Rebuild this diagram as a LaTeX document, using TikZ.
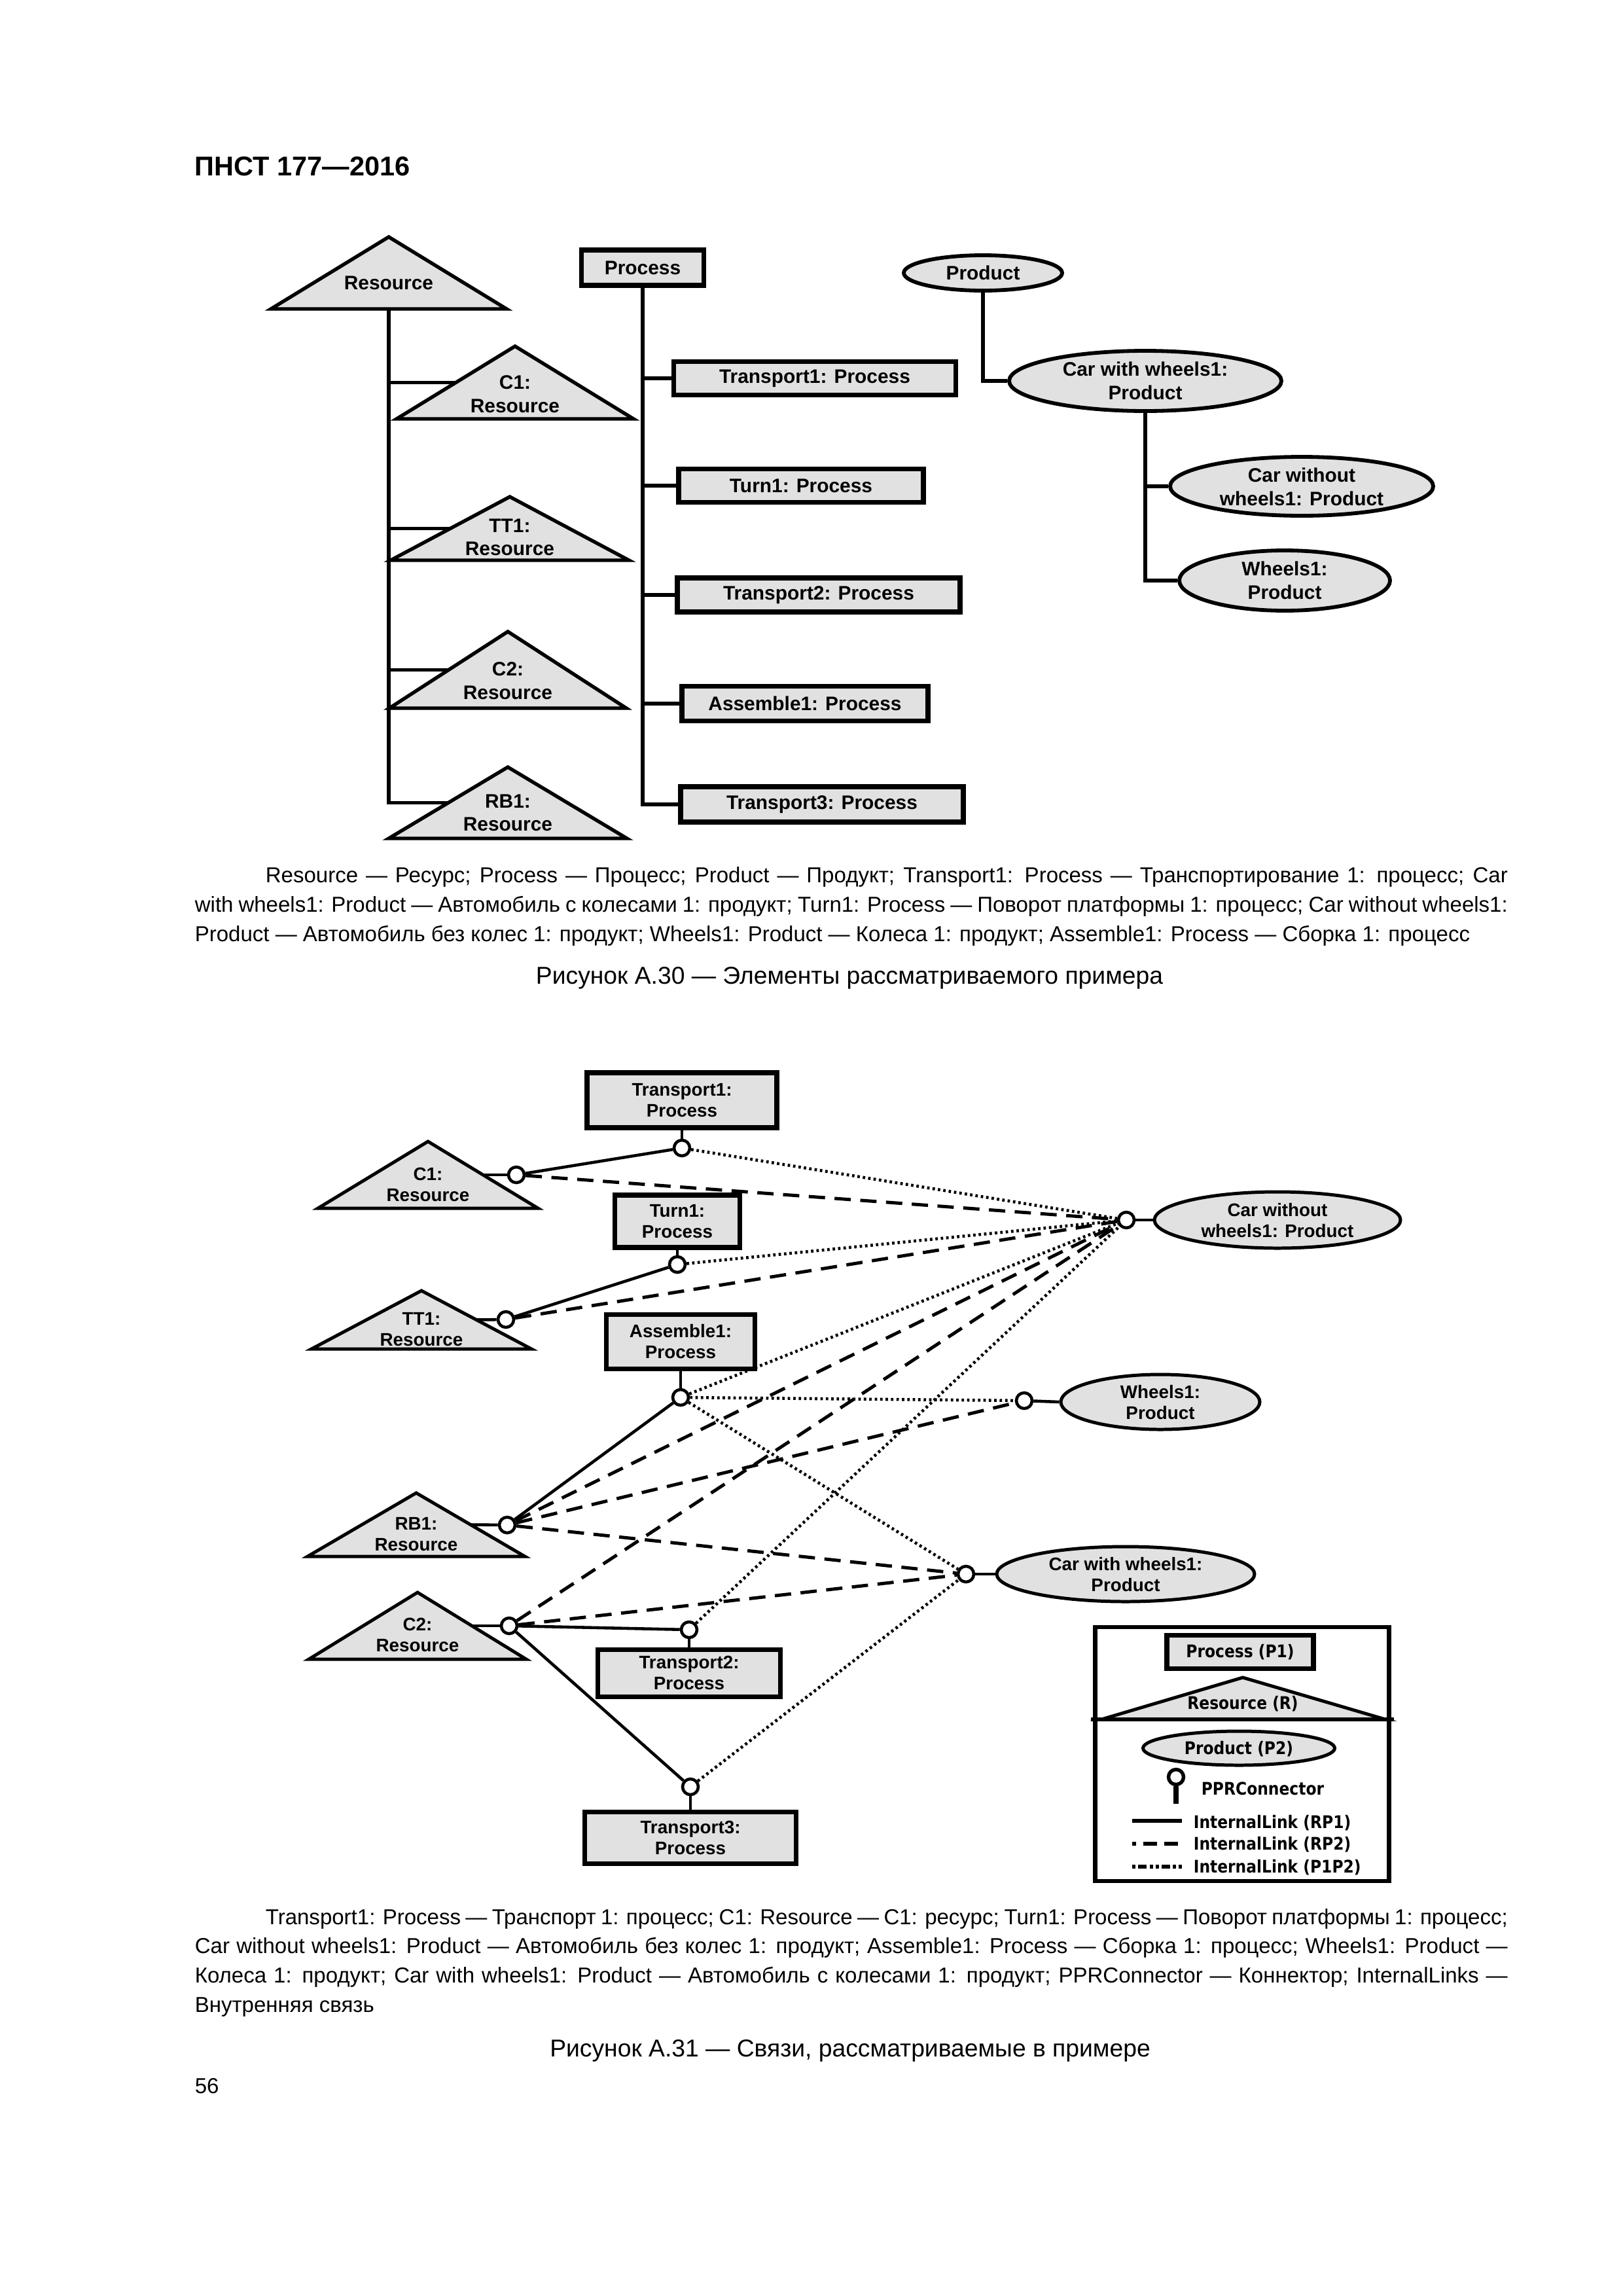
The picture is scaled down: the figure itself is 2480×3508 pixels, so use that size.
\documentclass[tikz,border=0pt]{standalone}
\usepackage{fontspec}
\setmainfont{Liberation Sans}
\newfontfamily\legfont{DejaVu Sans}[FakeStretch=0.88]
\usetikzlibrary{calc,shapes.geometric}
\definecolor{fillg}{HTML}{E1E1E1}
\newlength\pxu
\setlength\pxu{0.084677mm}
\newlength\fitlen
\newcommand\fitsize[3]{%
  \setbox0=\hbox{\fontsize{10pt}{12pt}\selectfont #3}%
  \setlength\fitlen{\wd0}%
  \pgfmathsetmacro#1{#2*0.24093/\fitlen*10}}
\newcommand\restri[6]{% style, name, apex x, apex y, halfwidth, height
  \draw[#1] (#3,#4) coordinate (#2-top) -- ++(-#5,#6) coordinate (#2-bl) -- ++(2*#5,0) coordinate (#2-br) -- cycle;
  \coordinate (#2-lm) at ($(#2-top)!0.5!(#2-bl)$);
  \coordinate (#2-rm) at ($(#2-top)!0.5!(#2-br)$);
  \coordinate (#2-bm) at ($(#2-bl)!0.5!(#2-br)$);}
\newcommand\capfont{\fontsize{\capsz pt}{\capsz pt}\selectfont}
\newcommand\titfont{\fontsize{\titsz pt}{\titsz pt}\selectfont}
\tikzset{
 ttxt/.style={font=\bfseries\fontsize{7.2pt}{8.6pt}\selectfont, align=center, inner sep=0pt},
 tbox/.style={draw, line width=1.8pt, fill=fillg, inner sep=0pt, font=\bfseries\fontsize{7.2pt}{8.6pt}\selectfont, align=center},
 tell/.style={ellipse, draw, line width=1.4pt, fill=fillg, inner sep=0pt},
 trist/.style={draw, line width=1.3pt, fill=fillg, line join=miter},
 tline/.style={line width=1.3pt},
 btxt/.style={font=\bfseries\fontsize{6.7pt}{7.7pt}\selectfont, align=center, inner sep=0pt},
 bbox/.style={draw, line width=1.7pt, fill=fillg, inner sep=0pt, font=\bfseries\fontsize{6.7pt}{7.7pt}\selectfont, align=center},
 bell/.style={ellipse, draw, line width=1.2pt, fill=fillg, inner sep=0pt},
 btri/.style={draw, line width=1.2pt, fill=fillg, line join=miter},
 conn/.style={circle, draw, line width=1.1pt, fill=white, inner sep=0pt, minimum size=24\pxu},
 rp1/.style={line width=1.1pt},
 rp2/.style={line width=1.2pt, dash pattern=on 6pt off 3.5pt},
 p1p2/.style={line width=1.1pt, dash pattern=on 0.9pt off 1.1pt},
 legtxt/.style={font=\legfont\bfseries\fontsize{6.4pt}{7.5pt}\selectfont, inner sep=0pt},
 captxt/.style={inner sep=0pt, anchor=west, font=\capfont},
}
\begin{document}
\fitsize{\capsz}{1948}{Product — Автомобиль без колес 1: продукт; Wheels1: Product — Колеса 1: продукт; Assemble1: Process — Сборка 1: процесс}%
\fitsize{\titsz}{958}{Рисунок А.30 — Элементы рассматриваемого примера}%
\begin{tikzpicture}[x=0.084677mm,y=-0.084677mm]
\fill[white] (0,0) rectangle (2480,3508);
\useasboundingbox (0,0) rectangle (2480,3508);

% header
\node[anchor=west, inner sep=0pt, font=\bfseries\fontsize{10pt}{12pt}\selectfont] (hdr) at (297,254) {ПНСТ 177—2016};

% ===== Figure A.30 =====
\restri{trist}{tres}{594}{362}{180}{110}
\node[ttxt] (tresT) at (594,432) {Resource};
\restri{trist}{tc1}{787}{529}{181}{111}
\node[ttxt] (tc1T) at (787,602) {C1:\\Resource};
\restri{trist}{ttt1}{779}{759}{182}{97}
\node[ttxt] (ttt1T) at (779,821) {TT1:\\Resource};
\restri{trist}{tc2}{776}{965}{181}{117}
\node[ttxt] (tc2T) at (776,1040) {C2:\\Resource};
\restri{trist}{trb1}{776}{1172}{182}{109}
\node[ttxt] (trb1T) at (776,1242) {RB1:\\Resource};
\draw[tline] (tres-bm) -- (tres-bm |- trb1-lm) -- (trb1-lm);
\foreach \n in {tc1,ttt1,tc2} \draw[tline] (tres-bm |- \n-lm) -- (\n-lm);

\node[tbox, minimum width=187\pxu, minimum height=54\pxu] (tproc) at (982,409) {Process};
\node[tbox, minimum width=431\pxu, minimum height=51\pxu] (tt1) at (1245,578) {Transport1: Process};
\node[tbox, minimum width=374\pxu, minimum height=51\pxu] (tturn) at (1224,742) {Turn1: Process};
\node[tbox, minimum width=432\pxu, minimum height=52\pxu] (tt2) at (1251,909) {Transport2: Process};
\node[tbox, minimum width=376\pxu, minimum height=53\pxu] (tasm) at (1230,1075) {Assemble1: Process};
\node[tbox, minimum width=432\pxu, minimum height=54\pxu] (tt3) at (1256,1229) {Transport3: Process};
\draw[tline] (tproc.south) -- (tproc.south |- tt3.west) -- (tt3.west);
\foreach \n in {tt1,tturn,tt2,tasm} \draw[tline] (tproc.south |- \n.west) -- (\n.west);

\node[tell, minimum width=242\pxu, minimum height=54\pxu] (tprod) at (1502,417) {};
\node[ttxt] (tprodT) at (1502,417) {Product};
\node[tell, minimum width=416\pxu, minimum height=92\pxu] (tcww) at (1750,582) {};
\node[ttxt] (tcwwT) at (1750,582) {Car with wheels1:\\Product};
\node[tell, minimum width=402\pxu, minimum height=90\pxu] (tcwo) at (1989,743) {};
\node[ttxt] (tcwoT) at (1989,744) {Car without\\wheels1: Product};
\node[tell, minimum width=322\pxu, minimum height=92\pxu] (twh) at (1963,887) {};
\node[ttxt] (twhT) at (1963,887) {Wheels1:\\Product};
\draw[tline] (tprod.south) -- (tprod.south |- tcww.west) -- (tcww.west);
\draw[tline] (tcww.south) -- (tcww.south |- twh.west) -- (twh.west);
\draw[tline] (tcww.south |- tcwo.west) -- (tcwo.west);

% caption A.30
\node[captxt] (c1a) at (405,1340) {\hbox to 1898\pxu{Resource — Ресурс; Process — Процесс; Product — Продукт; Transport1: Process — Транспортирование 1: процесс; Car}};
\node[captxt] (c1b) at (297,1385) {\hbox to 2006\pxu{with wheels1: Product — Автомобиль с колесами 1: продукт; Turn1: Process — Поворот платформы 1: процесс; Car without wheels1:}};
\node[captxt] (c1c) at (297,1430) {Product — Автомобиль без колес 1: продукт; Wheels1: Product — Колеса 1: продукт; Assemble1: Process — Сборка 1: процесс};
\node[inner sep=0pt, font=\titfont] (fig30) at (1298,1494) {Рисунок А.30 — Элементы рассматриваемого примера};

% ===== Figure A.31 =====
\node[bbox, minimum width=290\pxu, minimum height=84\pxu] (bT1) at (1042,1681) {Transport1:\\Process};
\node[bbox, minimum width=191\pxu, minimum height=80\pxu] (bTurn) at (1035,1866) {Turn1:\\Process};
\node[bbox, minimum width=227\pxu, minimum height=83\pxu] (bAsm) at (1040,2050) {Assemble1:\\Process};
\node[bbox, minimum width=279\pxu, minimum height=72\pxu] (bT2) at (1053,2556) {Transport2:\\Process};
\node[bbox, minimum width=323\pxu, minimum height=79\pxu] (bT3) at (1055,2808) {Transport3:\\Process};

\restri{btri}{bC1}{654}{1744}{168}{102}
\node[btxt] (bC1T) at (654,1810) {C1:\\Resource};
\restri{btri}{bTT1}{644}{1972}{168}{89}
\node[btxt] (bTT1T) at (644,2031) {TT1:\\Resource};
\restri{btri}{bRB1}{636}{2281}{166}{97}
\node[btxt] (bRB1T) at (636,2344) {RB1:\\Resource};
\restri{btri}{bC2}{638}{2433}{166}{102}
\node[btxt] (bC2T) at (638,2498) {C2:\\Resource};

\node[bell, minimum width=376\pxu, minimum height=86\pxu] (bCWO) at (1952,1864) {};
\node[btxt] (bCWOT) at (1952,1865) {Car without\\wheels1: Product};
\node[bell, minimum width=304\pxu, minimum height=84\pxu] (bW) at (1773,2142) {};
\node[btxt] (bWT) at (1773,2143) {Wheels1:\\Product};
\node[bell, minimum width=394\pxu, minimum height=84\pxu] (bCWW) at (1720,2405) {};
\node[btxt] (bCWWT) at (1720,2406) {Car with wheels1:\\Product};

\node[conn] (kT1) at (1042,1754) {};
\node[conn] (kTurn) at (1035,1932) {};
\node[conn] (kAsm) at (1040,2135) {};
\node[conn] (kT2) at (1053,2490) {};
\node[conn] (kT3) at (1055,2730) {};
\node[conn] (kC1) at (789,1795) {};
\node[conn] (kTT1) at (773,2016) {};
\node[conn] (kRB1) at (775,2330) {};
\node[conn] (kC2) at (778,2484) {};
\node[conn] (kCWO) at (1721,1864) {};
\node[conn] (kW) at (1565,2140) {};
\node[conn] (kCWW) at (1476,2405) {};

% stubs
\draw[rp1] (bT1.south) -- (kT1);
\draw[rp1] (bTurn.south) -- (kTurn);
\draw[rp1] (bAsm.south) -- (kAsm);
\draw[rp1] (kT2) -- (bT2.north);
\draw[rp1] (kT3) -- (bT3.north);
\draw[rp1] (bC1-rm) -- (kC1);
\draw[rp1] (bTT1-rm) -- (kTT1);
\draw[rp1] (bRB1-rm) -- (kRB1);
\draw[rp1] (bC2-rm) -- (kC2);
\draw[rp1] (kCWO) -- (bCWO.west);
\draw[rp1] (kW) -- (bW.west);
\draw[rp1] (kCWW) -- (bCWW.west);

% InternalLink RP1
\draw[rp1] (kC1) -- (kT1);
\draw[rp1] (kTT1) -- (kTurn);
\draw[rp1] (kRB1) -- (kAsm);
\draw[rp1] (kC2) -- (kT2);
\draw[rp1] (kC2) -- (kT3);
% InternalLink RP2
\draw[rp2] (kC1) -- (kCWO);
\draw[rp2] (kTT1) -- (kCWO);
\draw[rp2] (kRB1) -- (kCWO);
\draw[rp2] (kRB1) -- (kW);
\draw[rp2] (kRB1) -- (kCWW);
\draw[rp2] (kC2) -- (kCWO);
\draw[rp2] (kC2) -- (kCWW);
% InternalLink P1P2
\draw[p1p2] (kT1) -- (kCWO);
\draw[p1p2] (kTurn) -- (kCWO);
\draw[p1p2] (kAsm) -- (kCWO);
\draw[p1p2] (kAsm) -- (kW);
\draw[p1p2] (kAsm) -- (kCWW);
\draw[p1p2] (kT2) -- (kCWO);
\draw[p1p2] (kT3) -- (kCWW);

% legend
\node[draw, line width=1.5pt, minimum width=449\pxu, minimum height=388\pxu, inner sep=0pt] (leg) at (1898,2680) {};
\node[draw, line width=1.8pt, fill=fillg, minimum width=224\pxu, minimum height=51\pxu, inner sep=0pt, legtxt] (lproc) at (1895,2524) {Process (P1)};
\draw[line width=1.2pt, fill=fillg, line join=miter] (1899,2563) coordinate (ltop) -- (1683,2627) coordinate (lbl) -- (2117,2627) coordinate (lbr) -- cycle;
\node[legtxt] (lresT) at (1899,2603) {Resource (R)};
\coordinate (ldl) at (1667,2627);
\coordinate (ldr) at (2130,2627);
\draw[line width=1.4pt] (ldl) -- (ldr);
\node[ellipse, draw, line width=1.2pt, fill=fillg, minimum width=293\pxu, minimum height=52\pxu, inner sep=0pt] (lprod) at (1893,2671) {};
\node[legtxt] (lprodT) at (1893,2672) {Product (P2)};
\node[circle, draw, line width=1.3pt, fill=white, minimum size=23\pxu, inner sep=0pt] (lcon) at (1797,2715) {};
\coordinate (lconE) at (1797,2756);
\draw[line width=1.7pt] (lcon.south) -- (lconE);
\node[legtxt, anchor=west] (lconT) at (1835,2733) {PPRConnector};
\coordinate (l1a) at (1730,2782); \coordinate (l1b) at (1806,2782);
\coordinate (l2a) at (1730,2817); \coordinate (l2b) at (1806,2817);
\coordinate (l3a) at (1730,2852); \coordinate (l3b) at (1806,2852);
\draw[line width=1.4pt] (l1a) -- (l1b);
\draw[line width=1.4pt, dash pattern=on 1.4pt off 2.6pt on 5.2pt off 2.5pt on 5.2pt off 2.5pt] (l2a) -- (l2b);
\draw[line width=1.3pt, dash pattern=on 1.2pt off 1pt on 3.2pt off 1pt on 1.2pt off 1pt on 1.2pt off 1pt on 3.2pt off 1pt] (l3a) -- (l3b);
\node[legtxt, anchor=west] (l1T) at (1823,2785) {InternalLink (RP1)};
\node[legtxt, anchor=west] (l2T) at (1823,2818) {InternalLink (RP2)};
\node[legtxt, anchor=west] (l3T) at (1823,2853) {InternalLink (P1P2)};

% caption A.31
\node[captxt] (c2a) at (405,2932) {\hbox to 1898\pxu{Transport1: Process — Транспорт 1: процесс; C1: Resource — C1: ресурс; Turn1: Process — Поворот платформы 1: процесс;}};
\node[captxt] (c2b) at (297,2976) {\hbox to 2006\pxu{Car without wheels1: Product — Автомобиль без колес 1: продукт; Assemble1: Process — Сборка 1: процесс; Wheels1: Product —}};
\node[captxt] (c2c) at (297,3021) {\hbox to 2006\pxu{Колеса 1: продукт; Car with wheels1: Product — Автомобиль с колесами 1: продукт; PPRConnector — Коннектор; InternalLinks —}};
\node[captxt] (c2d) at (297,3067) {Внутренняя связь};
\node[inner sep=0pt, font=\titfont] (fig31) at (1299,3133) {Рисунок А.31 — Связи, рассматриваемые в примере};
\node[captxt] (pg) at (297,3187) {56};
\end{tikzpicture}
\end{document}
